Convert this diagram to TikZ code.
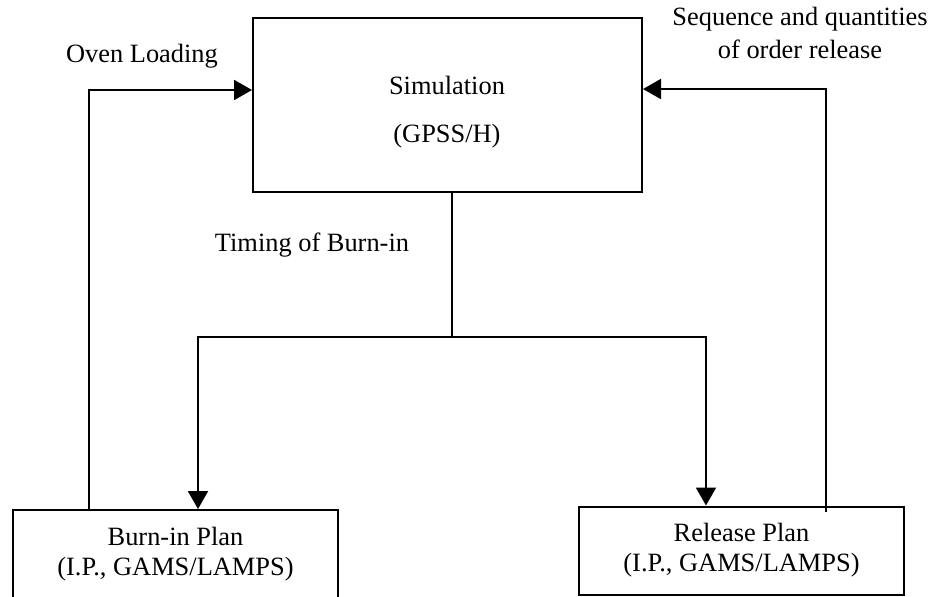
\documentclass[tikz,border=0pt]{standalone}
\usepackage{fontspec}
\setmainfont{Liberation Serif}
\usetikzlibrary{arrows.meta}

\tikzset{
  box/.style={draw, line width=1pt, rectangle, align=center},
  plan/.style={box, minimum width=162.5pt, minimum height=44pt},
  wire/.style={line width=1pt},
  arr/.style={wire, -{Triangle[length=9pt,width=10pt]}},
  lbl/.style={align=center, inner sep=0pt}
}

\begin{document}
\begin{tikzpicture}[x=0.5pt, y=-0.5pt, font=\fontsize{13.2}{15}\selectfont]
\useasboundingbox (0,0) rectangle (936,596);
       \node [box, minimum width=194.5pt, minimum height=87pt] at (447.5,105) (sim) {};
          \node [lbl] at (447,112) (sim text) {Simulation\\[9pt](GPSS/H)};
             \node [plan] at (175.5,554) (burn) {Burn-in Plan\\(I.P., GAMS/LAMPS)};
                \node [plan] at (741.5,550.5) (release) {Release Plan\\(I.P., GAMS/LAMPS)};
%
             \node [lbl, anchor=base] at (142,62) (oven label) {Oven Loading};
             \node [lbl, font=\fontsize{13.2}{16.5}\selectfont] at (800,33) (seq label) {Sequence and quantities\\of order release};
             \node [lbl, anchor=base] at (312,251) (timing label) {Timing of Burn-in};
%
\coordinate (split) at (452,337);
\coordinate (burn in) at (198,337);
\coordinate (release in) at (706,337);
\coordinate (oven) at (89,90);
\coordinate (seq) at (826,89);
\coordinate (seq foot) at (826,512);
%
\draw[wire] (sim.south -| split) -- (split);
\draw[arr] (split) -- (burn in) -- (burn in |- burn.north);
\draw[arr] (split) -- (release in) -- (release in |- release.north);
\draw[arr] (oven |- burn.north) -- (oven) -- (oven -| sim.west);
\draw[arr] (seq foot) -- (seq) -- (seq -| sim.east);

\end{tikzpicture}
\end{document}
